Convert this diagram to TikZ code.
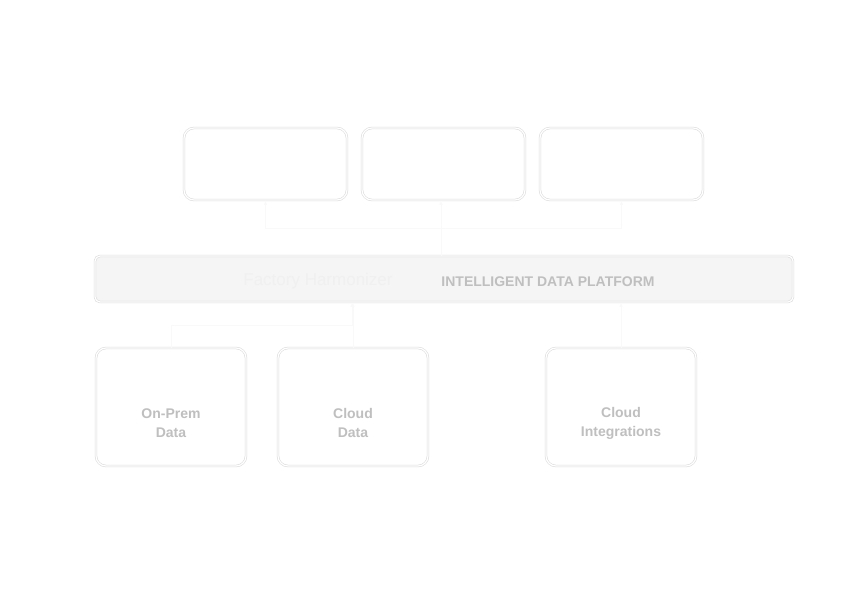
\documentclass[tikz,border=0pt]{standalone}
\usepackage{fontspec}
\setmainfont{Liberation Sans}
\usetikzlibrary{positioning}
\tikzset{
  card/.style={draw=black!14, double=white, double distance=1.2pt, rounded corners=10pt, fill=white, line width=.6pt},
  bar/.style={draw=black!14, double=white, double distance=1.2pt, rounded corners=5pt, fill=black!4, line width=.6pt},
  lbl/.style={text=black!25, font=\bfseries\fontsize{14}{19}\selectfont, align=center},
  link/.style={draw=black!2.5, line width=.6pt, ->, >=latex}
}
\begin{document}
\begin{tikzpicture}[x=1pt,y=-1pt]
            \useasboundingbox (0,0) rectangle (864,591);

            % top row
            \node[card, minimum width=163pt, minimum height=72pt] (app1) at (265.5,164) {};
            \node[card, minimum width=163pt, minimum height=72pt] (app2) at (443.5,164) {};
            \node[card, minimum width=163pt, minimum height=72pt] (app3) at (621.5,164) {};

            % platform
            \node[bar, minimum width=698pt, minimum height=46pt] (plat) at (444,279) {};
            \node[text=black!6, font=\fontsize{17}{18}\selectfont] (brand) at (318,281) {Factory Harmonizer};
            \node[lbl, font=\bfseries\fontsize{14}{15}\selectfont] (title) at (548,282) {INTELLIGENT DATA PLATFORM};

            % sources
            \node[card, minimum width=150pt, minimum height=118pt] (onprem) at (171,407) {};
            \node[card, minimum width=150pt, minimum height=118pt] (cloud) at (353,407) {};
            \node[card, minimum width=150pt, minimum height=118pt] (integ) at (621,407) {};
            \node[lbl] (onpremtxt) at (171,423) {On-Prem\\Data};
            \node[lbl] (cloudtxt) at (353,423) {Cloud\\Data};
            \node[lbl] (integtxt) at (621,423) {Cloud\\Integrations};

            \coordinate (up) at (441,228);
            \coordinate (down) at (352,325);

            \draw[link] (plat.north -| up) -- (up) -| (app1.south);
            \draw[link] (up) -- (app2.south -| up);
            \draw[link] (up) -| (app3.south);

            \draw[link] (onprem.north) |- (down) -- (plat.south -| down);
            \draw[link] (cloud.north) -- (plat.south -| cloud.north);
            \draw[link] (integ.north) -- (plat.south -| integ.north);
        \end{tikzpicture}
\end{document}
